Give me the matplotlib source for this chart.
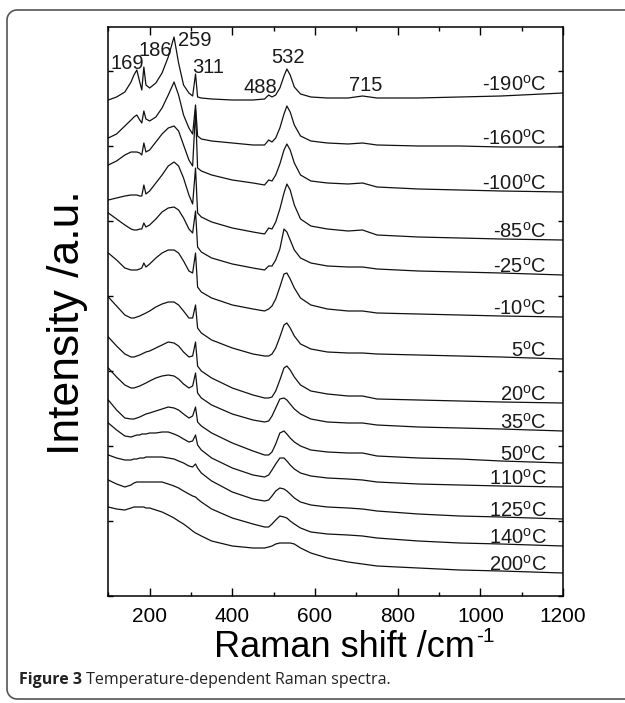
import numpy as np
import matplotlib
matplotlib.use('Agg')
import matplotlib.pyplot as plt
from matplotlib.lines import Line2D
from matplotlib.ticker import MultipleLocator, NullFormatter

plt.rcParams['font.family'] = ['Liberation Sans', 'DejaVu Sans']
plt.rcParams['mathtext.default'] = 'regular'

# Raman shift sampling points (cm^-1), shared by all spectra
raman_shift = [100, 120, 140, 155, 162, 169, 176, 181, 186, 191, 200, 215, 230, 245,
               259, 270, 282, 295, 304, 311, 316, 325, 350, 400, 450, 478, 488, 496,
               505, 515, 525, 532, 540, 550, 565, 590, 630, 680, 715, 750, 850, 950,
               1050, 1200]

# stacked intensities (a.u., offset already included)
int_m190 = [496, 499, 504, 514, 521, 526, 514, 506, 529, 511, 508, 513, 523, 539,
            559, 533, 511, 503, 500, 522, 499, 498, 497, 496, 496, 497, 501, 499,
            501, 508, 520, 527, 521, 509, 502, 499, 498, 498, 500, 498, 498, 499,
            500, 503]
int_m160 = [458, 462, 470, 476, 479, 481, 476, 473, 485, 477, 475, 479, 488, 501,
            514, 501, 481, 468, 462, 491, 460, 457, 455, 453, 451, 451, 456, 454,
            458, 468, 482, 490, 484, 471, 460, 455, 453, 452, 453, 451, 450, 450,
            449, 449]
int_m100 = [431, 435, 441, 444, 444, 444, 443, 441, 453, 444, 446, 454, 462, 468,
            470, 465, 451, 436, 430, 486, 428, 425, 421, 416, 413, 411, 416, 415,
            421, 432, 446, 452, 446, 433, 421, 415, 413, 412, 413, 409, 407, 406,
            405, 404]
int_m85 = [396, 398, 400, 401, 401, 401, 400, 400, 411, 402, 405, 413, 421, 430,
           434, 430, 418, 401, 392, 428, 383, 379, 374, 368, 364, 362, 368, 367,
           374, 387, 403, 412, 406, 391, 377, 370, 367, 365, 366, 361, 359, 358,
           357, 356]
int_m25 = [383, 377, 371, 367, 366, 366, 367, 367, 373, 369, 371, 377, 384, 388,
           389, 386, 378, 367, 363, 385, 349, 344, 338, 332, 328, 326, 330, 330,
           336, 347, 367, 364, 356, 346, 338, 333, 330, 329, 329, 327, 325, 324,
           323, 321]
int_m10 = [343, 336, 328, 326, 326, 326, 327, 328, 333, 329, 332, 338, 343, 346,
           346, 343, 335, 325, 323, 343, 309, 304, 298, 291, 287, 285, 287, 290,
           297, 309, 322, 323, 317, 308, 298, 291, 287, 285, 285, 283, 282, 281,
           280, 279]
int_p5 = [299, 290, 281, 278, 278, 279, 280, 281, 282, 283, 285, 289, 292, 294,
          294, 291, 285, 278, 278, 291, 268, 263, 256, 248, 242, 240, 240, 242,
          248, 259, 271, 273, 268, 260, 252, 247, 244, 243, 243, 242, 241, 240,
          239, 237]
int_p20 = [259, 250, 242, 239, 239, 240, 241, 242, 243, 244, 245, 248, 251, 254,
           253, 250, 244, 239, 240, 254, 230, 225, 218, 208, 201, 198, 198, 199,
           205, 216, 228, 230, 226, 219, 211, 205, 202, 200, 200, 197, 196, 195,
           194, 193]
int_p35 = [228, 219, 211, 208, 208, 209, 210, 211, 212, 213, 215, 218, 220, 221,
           220, 217, 212, 208, 210, 223, 203, 198, 191, 182, 176, 174, 175, 180,
           188, 197, 198, 196, 192, 187, 182, 177, 174, 173, 173, 171, 169, 168,
           167, 165]
int_p50 = [196, 186, 178, 177, 177, 178, 179, 180, 181, 182, 183, 185, 187, 189,
           188, 186, 182, 178, 180, 189, 174, 170, 163, 153, 145, 141, 141, 144,
           152, 163, 165, 162, 158, 154, 150, 146, 144, 143, 143, 140, 138, 137,
           135, 133]
int_p110 = [173, 166, 160, 159, 160, 161, 161, 162, 162, 162, 163, 163, 164, 164,
            162, 160, 157, 154, 155, 161, 151, 146, 138, 128, 121, 119, 121, 126,
            132, 138, 138, 135, 131, 127, 123, 120, 118, 117, 116, 114, 112, 111,
            110, 109]
int_p125 = [141, 138, 136, 136, 137, 137, 138, 138, 138, 139, 139, 139, 139, 138,
            137, 135, 133, 130, 129, 132, 128, 123, 115, 104, 97, 95, 96, 100,
            105, 108, 107, 105, 102, 98, 94, 91, 89, 88, 87, 85, 82, 80, 79, 77]
int_p140 = [116, 112, 109, 111, 113, 114, 114, 114, 114, 114, 114, 114, 114, 112,
            110, 108, 105, 102, 100, 99, 97, 94, 87, 78, 72, 69, 69, 72, 76, 80,
            79, 78, 75, 72, 68, 64, 62, 61, 60, 58, 55, 53, 52, 50]
int_p200 = [89, 87, 86, 88, 89, 89, 89, 89, 89, 88, 88, 86, 84, 81, 78, 75, 72, 68,
            65, 63, 62, 60, 55, 50, 48, 48, 49, 50, 52, 53, 53, 53, 53, 52, 48, 43,
            38, 34, 32, 30, 28, 26, 25, 23]

temperatures = ['-190', '-160', '-100', '-85', '-25', '-10', '5', '20', '35', '50',
                '110', '125', '140', '200']
spectra = [int_m190, int_m160, int_m100, int_m85, int_m25, int_m10, int_p5, int_p20,
           int_p35, int_p50, int_p110, int_p125, int_p140, int_p200]

peak_names = ['169', '186', '259', '311', '488', '532', '715']
# where the peak labels sit (x in cm^-1, y in a.u.)
peak_label_pos = [(147, 532), (213, 545), (310, 555), (341, 528), (467, 508),
                  (534, 538), (723, 510)]

W, H = 625, 703
fig = plt.figure(figsize=(W / 100, H / 100), dpi=100)
ax = fig.add_axes([0.1733, 0.1522, 0.7275, 0.8094])

for temp, spec in zip(temperatures, spectra):
    ax.plot(raman_shift, spec, color='#111111', lw=0.9)
    ax.text(1160, spec[-1] + 2, temp + '$^o$C', ha='right', va='baseline',
            fontsize=14.5, color='#1a1a1a')

for name, (px, py) in zip(peak_names, peak_label_pos):
    ax.text(px, py, name, ha='center', va='center', fontsize=14.5, color='#1a1a1a')

ax.set_xlim(100, 1200)
ax.set_ylim(0, 569)
ax.xaxis.set_major_locator(MultipleLocator(200))
ax.xaxis.set_minor_locator(MultipleLocator(100))
ax.yaxis.set_major_locator(MultipleLocator(75))
ax.yaxis.set_major_formatter(NullFormatter())
ax.tick_params(which='both', direction='in', top=True, right=True, width=1.0,
               labelsize=15, pad=8)
ax.tick_params(axis='x', which='major', length=6)
ax.tick_params(axis='x', which='minor', length=3)
ax.tick_params(axis='y', which='major', length=3.5)
for sp in ax.spines.values():
    sp.set_linewidth(1.1)

xl = ax.set_xlabel('Raman shift /cm', fontsize=26)
ax.xaxis.set_label_coords(0.52, -0.06)
ax.annotate('-1', xy=(1, 1), xycoords=xl, xytext=(1, 2), textcoords='offset points',
            ha='left', va='top', fontsize=15, annotation_clip=False)
ax.set_ylabel('Intensity /a.u.', fontsize=32)
ax.yaxis.set_label_coords(-0.045, 0.48)

# card border: left side, top and bottom, rounded corners on the left
r = 10
t = np.linspace(0, np.pi / 2, 12)
bx = np.concatenate([[W - 0.5], 7 + r - r * np.sin(t), 7 + r - r * np.cos(t), [W - 0.5]])
by = np.concatenate([[699], 699 - r + r * np.cos(t), 10 + r - r * np.sin(t), [10]])
fig.add_artist(Line2D(bx / W, 1 - by / H, transform=fig.transFigure,
                      color='#555555', lw=1.2))

cap1 = fig.text(19 / W, 1 - 684 / H, 'Figure 3', fontsize=11.5, fontweight='bold',
                family=['Open Sans', 'DejaVu Sans'], color='#222222', va='baseline')
ax.annotate(' Temperature-dependent Raman spectra.', xy=(1, 0), xycoords=cap1,
            va='bottom', ha='left', fontsize=11.5, family=['Open Sans', 'DejaVu Sans'],
            color='#222222', annotation_clip=False)

fig.savefig('out.png', dpi=100)
